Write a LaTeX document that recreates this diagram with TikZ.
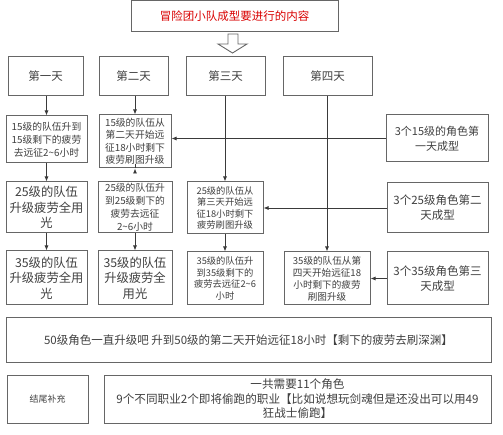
\documentclass[tikz,border=0pt]{standalone}
\usepackage{fontspec}
\setmainfont{Noto Sans CJK SC}
\usetikzlibrary{arrows.meta}
\definecolor{boxline}{HTML}{666666}
\definecolor{txt}{HTML}{404040}
\definecolor{lnk}{HTML}{3A3A3A}
\newcommand{\fs}[2]{\fontsize{#1}{#2}\selectfont}
\begin{document}
\begin{tikzpicture}[x=1pt,y=-1pt,
  box/.style={draw=boxline,line width=1pt,fill=white,rectangle,inner sep=1pt,align=center,text=txt,anchor=center},
  arr/.style={draw=lnk,line width=0.8pt,-{Latex[length=5pt,width=4pt]}}]
\useasboundingbox (0,0) rectangle (503,435);
% title
\node[box,minimum width=207,minimum height=31,text=red!85!black,font=\fs{11.5}{14}] (title) at (234.5,16.5) {冒险团小队成型要进行的内容};
% hollow arrow
\draw[draw=boxline,line width=0.9pt,fill=white] (228,34) -- (238,34) -- (238,44) -- (247,44) -- (232.5,53) -- (218,44) -- (228,44) -- cycle;
% days
\node[box,minimum width=75,minimum height=39,font=\fs{11.5}{14}] (d1) at (45.5,76.5) {第一天};
\node[box,minimum width=69,minimum height=39,font=\fs{11.5}{14}] (d2) at (133.5,76.5) {第二天};
\node[box,minimum width=79,minimum height=39,font=\fs{11.5}{14}] (d3) at (225.5,76.5) {第三天};
\node[box,minimum width=89,minimum height=39,font=\fs{11.5}{14}] (d4) at (327.5,76.5) {第四天};
% row 1
\node[box,minimum width=81,minimum height=47,font=\fs{9.8}{13}] (a1) at (46.5,139.5) {15级的队伍升到\\15级剩下的疲劳\\去远征2\textasciitilde6小时};
\node[box,minimum width=72,minimum height=53,font=\fs{9.8}{12.5}] (a2) at (135,141.5) {15级的队伍从\\第二天开始远\\征18小时剩下\\疲劳刷图升级};
\node[box,minimum width=102,minimum height=47,font=\fs{11}{15}] (a5) at (437,138.5) {3个15级的角色第\\一天成型};
% row 2
\node[box,minimum width=81,minimum height=51,font=\fs{12.3}{15.5}] (b1) at (46.5,207.5) {25级的队伍\\升级疲劳全用\\光};
\node[box,minimum width=74,minimum height=51,font=\fs{9.8}{13}] (b2) at (135,207.5) {25级的队伍升\\到25级剩下的\\疲劳去远征\\2\textasciitilde6小时};
\node[box,minimum width=76,minimum height=52,font=\fs{9.3}{11.2}] (b3) at (225,208) {25级的队伍从\\第三天开始远\\征18小时剩下\\疲劳刷图升级};
\node[box,minimum width=101,minimum height=50,font=\fs{11.5}{15}] (b5) at (437.5,208) {3个25级角色第二\\天成型};
% row 3
\node[box,minimum width=81,minimum height=54,font=\fs{12.3}{15.5}] (c1) at (46.5,278) {35级的队伍\\升级疲劳全用\\光};
\node[box,minimum width=74,minimum height=54,font=\fs{12.3}{15.5}] (c2) at (135,278) {35级的队伍\\升级疲劳全\\用光};
\node[box,minimum width=76,minimum height=53,font=\fs{9.3}{11.5}] (c3) at (225,278.5) {35级的队伍升\\到35级剩下的\\疲劳去远征2\textasciitilde6\\小时};
\node[box,minimum width=86,minimum height=53,font=\fs{9.6}{12}] (c4) at (327,278.5) {35级的队伍从第\\四天开始远征18\\小时剩下的疲劳\\刷图升级};
\node[box,minimum width=101,minimum height=53,font=\fs{11.5}{15}] (c5) at (437.5,278.5) {3个35级角色第三\\天成型};
% bottom
\node[box,minimum width=485,minimum height=44,font=\fs{11.5}{14}] (big) at (248.5,340) {50级角色一直升级吧 升到50级的第二天开始远征18小时【剩下的疲劳去刷深渊】};
\node[box,minimum width=81,minimum height=48,font=\fs{9}{12}] (e1) at (47.5,399) {结尾补充};
\node[box,minimum width=387,minimum height=48,font=\fs{11.6}{14.5}] (e2) at (297.5,399) {一共需要11个角色\\9个不同职业2个即将偷跑的职业【比如说想玩剑魂但是还没出可以用49\\狂战士偷跑】};
% connectors
\draw[arr] (d1.south -| a1.north) -- (a1.north);
\draw[arr] (a1) -- (b1);
\draw[arr] (b1) -- (c1);
\draw[arr] (d2.south -| a2.north) -- (a2.north);
\draw[arr] (a2.south) -- (a2.south -| b2.north);
\draw[arr] (b2) -- (c2);
\draw[arr] (d3.south -| b3.north) -- (b3.north);
\draw[arr] (b3) -- (c3);
\draw[arr] (d4.south -| c4.north) -- (c4.north);
\draw[arr] (a5.west) -- (a5.west -| a2.east);
\draw[arr] (b5.west) -- (b5.west -| b3.east);
\draw[arr] (c5.west) -- (c5.west -| c4.east);
\end{tikzpicture}
\end{document}
